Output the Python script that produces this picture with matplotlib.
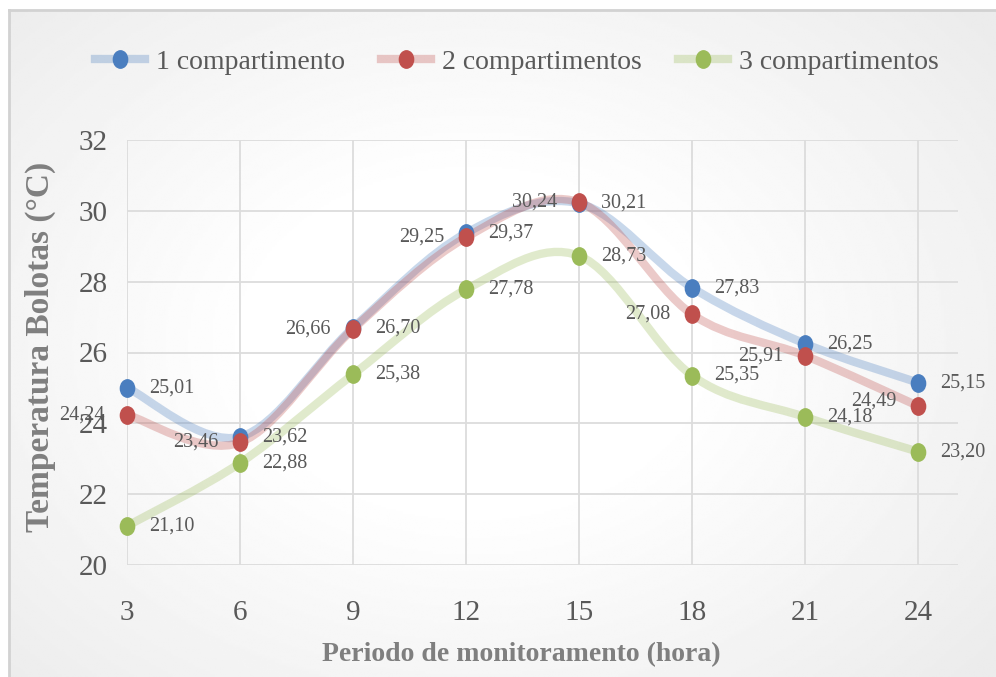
import numpy as np
import matplotlib.pyplot as plt
from matplotlib.path import Path
from matplotlib.patches import PathPatch
from matplotlib.lines import Line2D
from matplotlib.colors import to_rgba

horas = [3, 6, 9, 12, 15, 18, 21, 24]
comp1 = [25.01, 23.62, 26.70, 29.37, 30.21, 27.83, 26.25, 25.15]
comp2 = [24.24, 23.46, 26.66, 29.25, 30.24, 27.08, 25.91, 24.49]
comp3 = [21.10, 22.88, 25.38, 27.78, 28.73, 25.35, 24.18, 23.20]
nomes = ['1 compartimento', '2 compartimentos', '3 compartimentos']
yticks = [20, 22, 24, 26, 28, 30, 32]

cores = ['#4a7ebf', '#c0504d', '#9bbb59']
lados = ['right', 'left', 'right']   # side of the value labels
cinza = '#595959'
fonte = 'Liberation Serif'


def curva_suave(x, y):
    # cubic bezier through the points (smoothed line, catmull-rom tangents)
    p = np.column_stack([x, y]).astype(float)
    ext = np.vstack([p[0], p, p[-1]])
    verts = [p[0]]
    codes = [Path.MOVETO]
    for i in range(len(p) - 1):
        c1 = ext[i + 1] + (ext[i + 2] - ext[i]) / 6
        c2 = ext[i + 2] - (ext[i + 3] - ext[i + 1]) / 6
        verts += [c1, c2, p[i + 1]]
        codes += [Path.CURVE4] * 3
    return Path(verts, codes)


circ = Path.unit_circle()
oval = Path(circ.vertices * [0.82, 1.0], circ.codes)

fig = plt.figure(figsize=(9.96, 6.77), dpi=100)

# background panel with a soft radial shade and a thin grey frame
bg = fig.add_axes([9 / 996, 0, 1 - 9 / 996, 1 - 10 / 677], zorder=-5)
yy, xx = np.mgrid[0:1:300j, 0:1:400j]
d = np.sqrt(((xx - 0.47) / 1.0) ** 2 + ((yy - 0.5) / 1.1) ** 2)
shade = 1 - 0.075 * np.clip((d - 0.22) / 0.45, 0, 1)
bg.imshow(shade, cmap='gray', vmin=0, vmax=1, aspect='auto', interpolation='bilinear',
          extent=[0, 1, 0, 1])
bg.set_xticks([])
bg.set_yticks([])
for s in ['right', 'bottom']:
    bg.spines[s].set_visible(False)
for s in ['left', 'top']:
    bg.spines[s].set_color('#d2d2d2')
    bg.spines[s].set_linewidth(2)

ax = fig.add_axes([127 / 996, 1 - 565 / 677, (958 - 127) / 996, (565 - 140) / 677])
ax.set_facecolor('none')
ax.set_xlim(3, 25.06)
ax.set_ylim(20, 32)
ax.set_xticks(horas)
ax.set_yticks(yticks)
ax.grid(True, color='#dcdcdc', lw=1.3)
ax.set_axisbelow(True)
for s in ax.spines.values():
    s.set_visible(False)
ax.tick_params(length=0, labelsize=21, labelcolor=cinza)
ax.tick_params(axis='x', pad=25)
ax.tick_params(axis='y', pad=14)
for t in ax.get_xticklabels() + ax.get_yticklabels():
    t.set_family(fonte)

series = [comp1, comp2, comp3]
handles = []
for vals, cor, nome, lado in zip(series, cores, nomes, lados):
    ax.add_patch(PathPatch(curva_suave(horas, vals), fc='none', ec=to_rgba(cor, 0.3),
                           lw=6, capstyle='round', clip_on=False, zorder=2))
    ax.plot(horas, vals, ls='none', marker=oval, ms=12.5, color=cor,
            clip_on=False, zorder=3)
    dx = 22 if lado == 'right' else -22
    for x, v in zip(horas, vals):
        dy = 5 if (lado == 'left' and x == 24) else 0
        ax.annotate(f'{v:.2f}'.replace('.', ','), (x, v), xytext=(dx, dy),
                    textcoords='offset pixels', ha='left' if lado == 'right' else 'right',
                    va='center', fontsize=14.5, color=cinza, family=fonte, zorder=4,
                    annotation_clip=False)
    handles.append(Line2D([], [], color=to_rgba(cor, 0.3), lw=6, marker=oval, ms=12.5,
                          mfc=cor, mec=cor))

ax.set_xlabel('Periodo de monitoramento (hora)', fontsize=20, fontweight='bold',
              color='#7f7f7f', family=fonte)
ax.xaxis.set_label_coords(0.475, -0.182)
ax.set_ylabel('Temperatura Bolotas (°C)', fontsize=24, fontweight='bold',
              color='#7f7f7f', family=fonte)
ax.yaxis.set_label_coords(-0.086, 0.513)

fig.legend(handles, nomes, loc='center', bbox_to_anchor=(0.519, 1 - 62 / 677), ncol=3,
           frameon=False, handlelength=1.8, handletextpad=0.4, columnspacing=1.3,
           prop={'family': fonte, 'size': 20}, labelcolor=cinza)

fig.savefig('out.png', dpi=100)
